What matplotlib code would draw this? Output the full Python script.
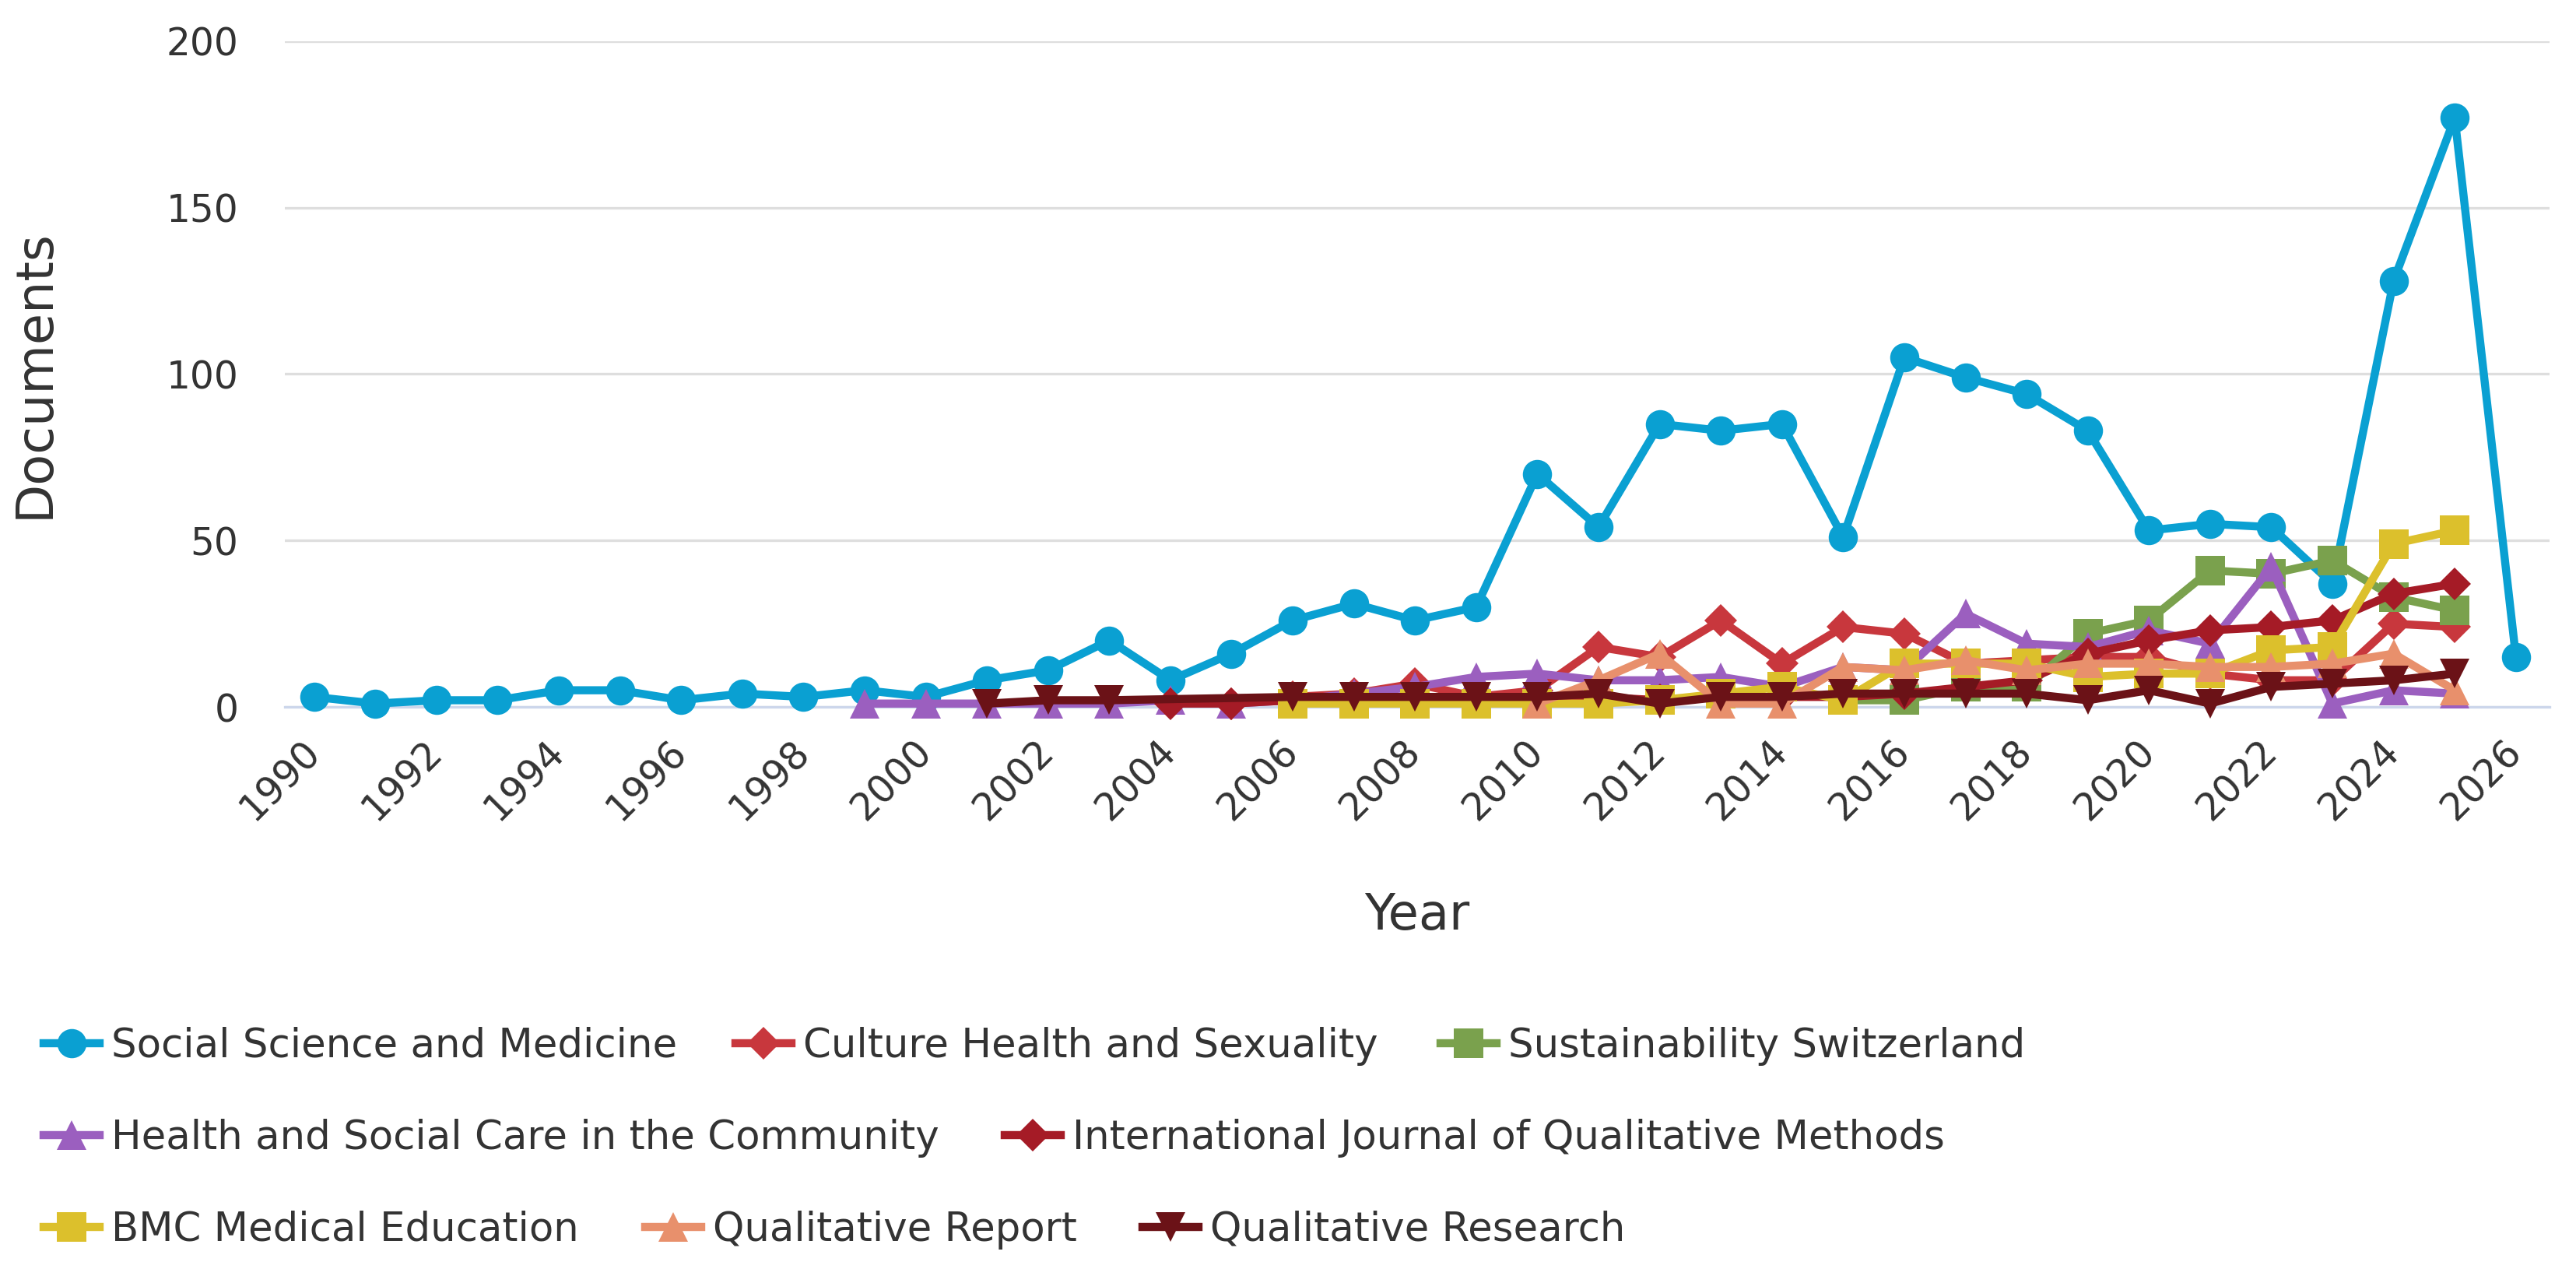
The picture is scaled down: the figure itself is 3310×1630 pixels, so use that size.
import numpy as np
import matplotlib
matplotlib.use("Agg")
import matplotlib.pyplot as plt
from matplotlib.lines import Line2D

# documents per year, by source title
ssm_years = list(range(1990, 2027))
ssm = [3, 1, 2, 2, 5, 5, 2, 4, 3, 5,
       3, 8, 11, 20, 8, 16, 26, 31, 26, 30,
       70, 54, 85, 83, 85, 51, 105, 99, 94, 83,
       53, 55, 54, 37, 128, 177, 15]

chs_years = list(range(2005, 2026))
chs = [1, 3, 4, 7, 3, 5, 18, 15, 26, 13, 24, 22, 13, 14, 15, 15, 10, 8, 8, 25, 24]

sus_years = list(range(2015, 2026))
sus = [2, 2, 6, 6, 22, 26, 41, 40, 44, 33, 29]

hsc_years = list(range(1999, 2026))
hsc = [1, 1, 1, 1, 1, 2, 1, 2, 4, 6, 9, 10, 8, 8, 9, 6, 12, 11, 28, 19, 18, 23, 19, 42, 1, 5, 4]

ijqm_years = list(range(2004, 2026))
ijqm = [1, 1, 2, 2, 2, 2, 2, 3, 2, 3, 3, 3, 4, 6, 8, 16, 20, 23, 24, 26, 34, 37]

bmc_years = list(range(2006, 2026))
bmc = [1, 1, 1, 1, 1, 1, 2, 4, 6, 2, 13, 13, 13, 9, 10, 10, 17, 18, 49, 53]

qrep_years = list(range(2010, 2026))
qrep = [1, 8, 16, 1, 1, 12, 11, 14, 11, 13, 13, 12, 12, 13, 16, 5]

qres_years = [2001, 2002, 2003] + list(range(2006, 2026))
qres = [1, 2, 2, 3, 3, 3, 3, 3, 4, 1, 3, 3, 4, 4, 4, 4, 2, 5, 1, 6, 7, 8, 10]

series = [
    ("Social Science and Medicine", ssm_years, ssm, "#0aa0d2", "o", 27),
    ("Culture Health and Sexuality", chs_years, chs, "#c8373d", "D", 21),
    ("Sustainability Switzerland", sus_years, sus, "#7aa14d", "s", 27),
    ("Health and Social Care in the Community", hsc_years, hsc, "#9b5fbf", "^", 28),
    ("International Journal of Qualitative Methods", ijqm_years, ijqm, "#a51b26", "D", 21),
    ("BMC Medical Education", bmc_years, bmc, "#dcc02c", "s", 27),
    ("Qualitative Report", qrep_years, qrep, "#e8906c", "^", 28),
    ("Qualitative Research", qres_years, qres, "#6b1217", "v", 28),
]

# legend rows: (series index, left x px, row centre y px)
legend_pos = [(0, 56, 1344), (1, 945, 1344), (2, 1851, 1344),
              (3, 56, 1462), (4, 1291, 1462),
              (5, 56, 1580), (6, 829, 1580), (7, 1468, 1580)]

W, H = 3310, 1630
fig = plt.figure(figsize=(W / 100, H / 100), dpi=100)
ax = fig.add_axes([366 / W, 1 - 908 / H, (3276 - 366) / W, (908 - 53) / H])

for i, (name, xs, ys, col, mk, ms) in enumerate(series):
    ax.plot(xs, ys, color=col, lw=7.5, marker=mk, ms=ms, mec=col, mew=0,
            solid_joinstyle="round", solid_capstyle="round", clip_on=False,
            zorder=3 + i)

ax.set_xlim(1989.52, 2026.55)
ax.set_ylim(0, 200)
ax.set_yticks([0, 50, 100, 150, 200])
ax.set_xticks(list(range(1990, 2027, 2)))
ax.grid(axis="y", color="#dedede", lw=2.4)
ax.set_axisbelow(True)
for s in ["top", "right", "left"]:
    ax.spines[s].set_visible(False)
ax.spines["bottom"].set_color("#ccd6eb")
ax.spines["bottom"].set_linewidth(2.4)
ax.tick_params(axis="both", length=0, labelsize=35, labelcolor="#333333")
ax.tick_params(axis="y", pad=43)
ax.tick_params(axis="x", pad=36)
for lab in ax.get_xticklabels():
    lab.set_rotation(45)
    lab.set_ha("right")
    lab.set_va("center")
    lab.set_rotation_mode("anchor")

ax.set_xlabel("Year", fontsize=46, color="#333333", va="center")
ax.xaxis.set_label_coords(0.5, -(1176 - 908) / (908 - 53))
ax.set_ylabel("Documents", fontsize=47, color="#333333", va="center")
ax.yaxis.set_label_coords((45 - 366) / (3276 - 366), 0.5)

for idx, lx, ly in legend_pos:
    name, xs, ys, col, mk, ms = series[idx]
    h = Line2D([0], [0], color=col, lw=7.5, marker=mk, ms=ms, mew=0)
    fig.legend([h], [name], loc="center left", bbox_to_anchor=(lx / W, 1 - ly / H),
               frameon=False, borderpad=0, borderaxespad=0, handlelength=1.4,
               handletextpad=0.3, prop={"family": "DejaVu Sans", "size": 37},
               labelcolor="#333333")

fig.savefig("out.png", dpi=100)
